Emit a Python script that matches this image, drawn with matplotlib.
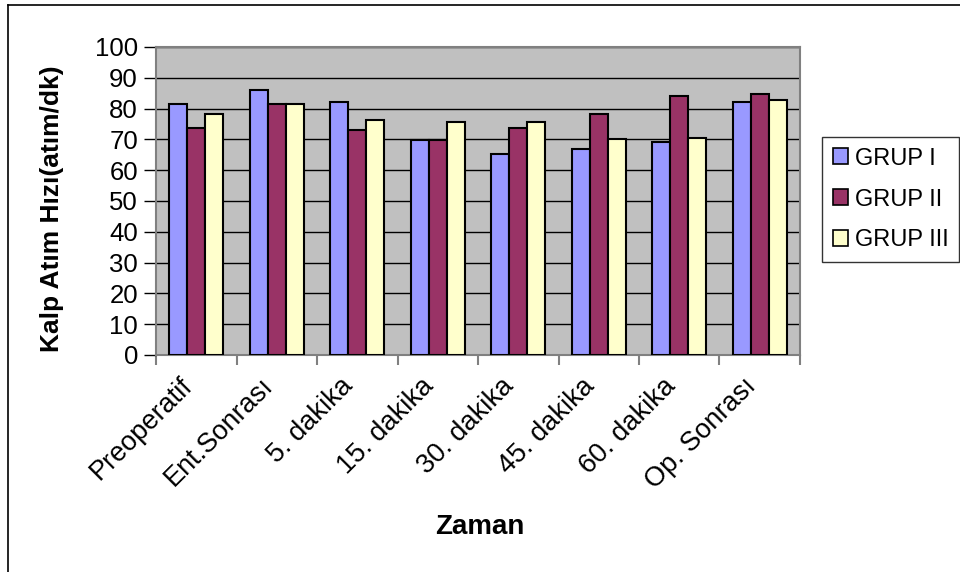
import matplotlib
matplotlib.use("Agg")
import matplotlib.pyplot as plt
import matplotlib.transforms as mtransforms
from matplotlib.lines import Line2D
from matplotlib.patches import Patch
import numpy as np

plt.rcParams["font.family"] = ["Liberation Sans", "DejaVu Sans"]

categories = ["Preoperatif", "Ent.Sonrası", "5. dakika", "15. dakika",
              "30. dakika", "45. dakika", "60. dakika", "Op. Sonrası"]
grup1 = [81.5, 86.0, 82.2, 69.8, 65.4, 66.8, 69.2, 82.3]
grup2 = [73.7, 81.5, 73.0, 69.8, 73.8, 78.3, 84.1, 84.9]
grup3 = [78.2, 81.5, 76.3, 75.8, 75.8, 70.0, 70.6, 82.8]
series_names = ["GRUP I", "GRUP II", "GRUP III"]
yticks = list(range(0, 101, 10))

C_BG = "#C0C0C0"
COLORS = ["#9999FF", "#993366", "#FFFFCC"]

W, H = 960, 572
fig = plt.figure(figsize=(W / 100, H / 100), dpi=100)
ax = fig.add_axes([156 / W, (H - 355) / H, 644 / W, 308 / H])
ax.set_facecolor(C_BG)

x = np.arange(len(categories))
bw = 0.225
for i, (vals, col) in enumerate(zip([grup1, grup2, grup3], COLORS)):
    ax.bar(x + (i - 1) * bw, vals, width=bw, color=col, edgecolor="black",
           linewidth=1.5, zorder=3, label=series_names[i])

ax.set_xlim(-0.5, len(categories) - 0.5)
ax.set_ylim(0, 100)
ax.set_yticks(yticks)
ax.yaxis.grid(True, color="black", linewidth=1.0, zorder=1)
ax.set_axisbelow(True)

for s in ax.spines.values():
    s.set_color("#808080")
    s.set_linewidth(1.5)

ax.tick_params(axis="y", direction="out", length=9, width=1, color="black",
               labelsize=18.5, pad=4)
ax.set_xticks(x)
ax.set_xticklabels(categories, rotation=45, ha="right", va="center",
                   rotation_mode="anchor", fontsize=19.5)
ax.tick_params(axis="x", which="major", length=0, pad=19.5)
ax.set_xticks(np.arange(-0.5, len(categories)), minor=True)
ax.tick_params(axis="x", which="minor", direction="out", length=7, width=1.5,
               color="#808080")
shift = mtransforms.ScaledTranslation(-8 / 100, 0, fig.dpi_scale_trans)
for lbl in ax.get_xticklabels():
    lbl.set_transform(lbl.get_transform() + shift)

ax.set_ylabel("Kalp Atım Hızı(atım/dk)", fontsize=19, fontweight="bold",
              va="center")
ax.yaxis.set_label_coords(-0.161, 0.476)
fig.text(480 / W, 1 - 527 / H, "Zaman", fontsize=20, fontweight="bold",
         ha="center", va="center")

handles = [Patch(facecolor=c, edgecolor="black", linewidth=1.2) for c in COLORS]
leg = fig.legend(handles, series_names, loc="upper left",
                 bbox_to_anchor=(822 / W, 1 - 137 / H), fontsize=17,
                 frameon=True, fancybox=False, handlelength=0.65,
                 handleheight=0.65, handletextpad=0.3, labelspacing=0.8,
                 borderpad=0.45, borderaxespad=0)
leg.get_frame().set_edgecolor("black")
leg.get_frame().set_linewidth(1.0)

# outer chart border (left and top edges)
fig.add_artist(Line2D([8 / W, 8 / W], [0, 1 - 5 / H], color="black",
                      linewidth=1.2, transform=fig.transFigure))
fig.add_artist(Line2D([8 / W, 1], [1 - 5 / H, 1 - 5 / H], color="black",
                      linewidth=1.2, transform=fig.transFigure))

fig.savefig("out.png", dpi=100)
